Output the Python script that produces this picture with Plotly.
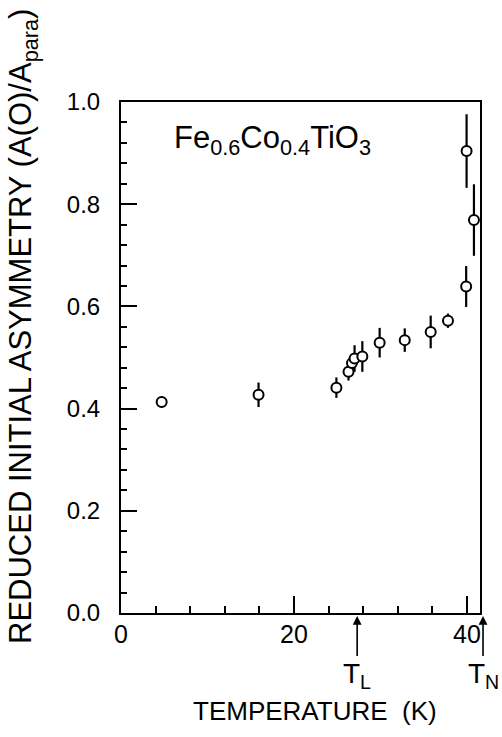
import plotly.graph_objects as go

# Reduced initial asymmetry A(0)/A_para versus temperature for Fe0.6Co0.4TiO3
temperature_K = [4.7, 15.9, 24.9, 26.3, 26.7, 27.0, 27.9, 29.9, 32.8, 35.8, 37.8, 39.9, 39.95, 40.8]
asymmetry = [0.413, 0.427, 0.441, 0.472, 0.489, 0.498, 0.502, 0.529, 0.534, 0.550, 0.572, 0.639, 0.904, 0.769]
asym_err = [0.011, 0.024, 0.020, 0.017, 0.018, 0.026, 0.030, 0.029, 0.023, 0.032, 0.014, 0.040, 0.072, 0.070]

# Characteristic temperatures marked under the axis
T_L = 27.3
T_N = 41.85

X_RANGE = [0, 41.5]
Y_RANGE = [0, 1.0]

W, H = 502, 737
L, R, T, B = 121, 480, 102, 613  # plot-area edges in pixels

FONT = "Liberation Sans, Arial, sans-serif"


def px_to_paper_x(px):
    return (px - L) / (R - L)


def px_to_paper_y(py):
    return (B - py) / (B - T)


def data_to_paper_x(v):
    return (v - X_RANGE[0]) / (X_RANGE[1] - X_RANGE[0])


fig = go.Figure()

fig.add_trace(go.Scatter(
    x=temperature_K,
    y=asymmetry,
    mode="markers",
    marker=dict(symbol="circle", size=10, color="white",
                line=dict(color="black", width=2)),
    error_y=dict(type="data", array=asym_err, visible=True,
                 thickness=2.2, width=0, color="black"),
    showlegend=False,
    cliponaxis=False,
))

annotations = [
    # compound label
    dict(text="Fe<sub>0.6</sub>Co<sub>0.4</sub>TiO<sub>3</sub>",
         x=px_to_paper_x(172), y=px_to_paper_y(140), xref="paper", yref="paper",
         xanchor="left", yanchor="middle", showarrow=False,
         font=dict(family=FONT, size=31, color="black")),
    # y-axis title
    dict(text="REDUCED INITIAL ASYMMETRY (A(O)/A<sub>para</sub>)",
         x=px_to_paper_x(23), y=px_to_paper_y(327), xref="paper", yref="paper",
         xanchor="center", yanchor="middle", textangle=-90, showarrow=False,
         font=dict(family=FONT, size=31, color="black")),
    # x-axis title
    dict(text="TEMPERATURE  (K)",
         x=px_to_paper_x(315), y=px_to_paper_y(711), xref="paper", yref="paper",
         xanchor="center", yanchor="middle", showarrow=False,
         font=dict(family=FONT, size=26, color="black")),
]

for tval, name in [(T_L, "T<sub>L</sub>"), (T_N, "T<sub>N</sub>")]:
    annotations.append(dict(
        text=name, x=data_to_paper_x(tval), y=0, xref="paper", yref="paper",
        showarrow=True, arrowhead=2, arrowsize=1.1, arrowwidth=1.6,
        arrowcolor="black", ax=0, ay=62, standoff=3,
        font=dict(family=FONT, size=28, color="black"),
    ))

fig.update_layout(
    width=W, height=H,
    margin=dict(l=L, r=W - R, t=T, b=H - B),
    paper_bgcolor="white", plot_bgcolor="white",
    annotations=annotations,
    xaxis=dict(
        range=X_RANGE, tick0=0, dtick=20, ticks="inside", ticklen=17,
        tickwidth=2, tickcolor="black",
        minor=dict(dtick=4, tick0=0, ticks="inside", ticklen=7,
                   tickwidth=1.5, tickcolor="black"),
        showline=True, linecolor="black", linewidth=2, mirror=True,
        showgrid=False, zeroline=False, ticklabelstandoff=-2,
        tickfont=dict(family=FONT, size=25, color="black"),
    ),
    yaxis=dict(
        range=Y_RANGE, tick0=0, dtick=0.2, tickformat=".1f",
        ticks="inside", ticklen=16, tickwidth=2, tickcolor="black",
        minor=dict(dtick=0.04, tick0=0, ticks="inside", ticklen=6,
                   tickwidth=1.5, tickcolor="black"),
        showline=True, linecolor="black", linewidth=2, mirror=True,
        showgrid=False, zeroline=False, ticklabelstandoff=14,
        tickfont=dict(family=FONT, size=24, color="black"),
    ),
)

fig.write_html("out.html")
